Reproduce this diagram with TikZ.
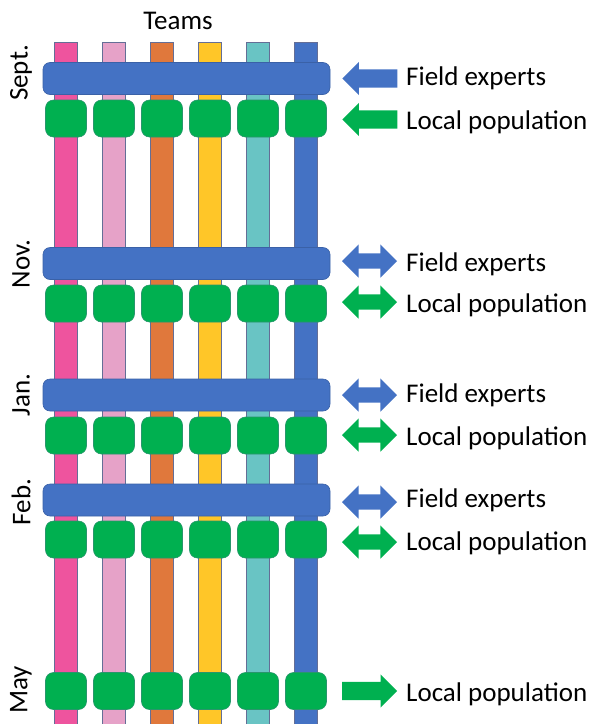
\documentclass[tikz,border=0pt]{standalone}
\usepackage{fontspec}
\setmainfont{Carlito}
\usetikzlibrary{shapes.arrows}

\definecolor{teampink}{RGB}{238,84,158}
\definecolor{teamlightpink}{RGB}{230,162,200}
\definecolor{teamorange}{RGB}{224,120,60}
\definecolor{teamyellow}{RGB}{255,198,40}
\definecolor{teamteal}{RGB}{105,196,196}
\definecolor{teamblue}{RGB}{68,114,196}
\definecolor{popgreen}{RGB}{0,176,80}
\definecolor{edgegrey}{RGB}{100,110,150}

\tikzset{
  teambar/.style={draw=edgegrey, line width=0.8pt},
  expertbar/.style={draw=teamblue!85!black, fill=teamblue, rounded corners=7pt,
    minimum width=287pt, minimum height=32pt, inner sep=0pt, line width=0.6pt},
  popbox/.style={draw=popgreen!60!edgegrey, fill=popgreen, rounded corners=8pt,
    minimum width=41pt, minimum height=37pt, inner sep=0pt, line width=0.6pt},
  leftarrow/.style={single arrow, shape border rotate=180, draw=none,
    minimum height=55pt, inner xsep=0pt, inner ysep=9pt, single arrow head extend=7.5pt},
  rightarrow/.style={single arrow, draw=none,
    minimum height=55pt, inner xsep=0pt, inner ysep=9pt, single arrow head extend=7.5pt},
  twoway/.style={double arrow, draw=none,
    minimum height=55pt, inner xsep=0pt, inner ysep=7.5pt, double arrow head extend=9pt},
  side/.style={font=\fontsize{27}{31}\selectfont, inner sep=0pt, anchor=west},
  month/.style={font=\fontsize{27}{31}\selectfont, inner sep=0pt}
}

\begin{document}
\begin{tikzpicture}[x=1pt, y=-1pt]
\useasboundingbox (0,0) rectangle (589,724);
\clip (0,0) rectangle (589,724);

% Team bars
\foreach \x/\c in {66/teampink,114/teamlightpink,162/teamorange,210/teamyellow,258/teamteal,306/teamblue}
  \draw[teambar, fill=\c] (\x-11.5,42) rectangle (\x+11.5,735);

% Meetings
\foreach \m/\yb/\yg in {sept/78.5/118.5, nov/263.5/303.5, jan/395/435.5, feb/500/539.5} {
  \node[expertbar] (\m-experts) at (186.5,\yb) {};
  \foreach \x [count=\i] in {66,114,162,210,258,306}
    \node[popbox] (\m-pop\i) at (\x,\yg) {};
}
\foreach \x [count=\i] in {66,114,162,210,258,306}
  \node[popbox] (may-pop\i) at (\x,691) {};

% Arrows
\node[leftarrow, fill=teamblue, anchor=tip] (sept-fa) at (342,78.5) {};
\node[leftarrow, fill=popgreen, anchor=tip] (sept-la) at (342,119.5) {};
\node[twoway, fill=teamblue] (nov-fa) at (369.5,261) {};
\node[twoway, fill=popgreen] (nov-la) at (369.5,302) {};
\node[twoway, fill=teamblue] (jan-fa) at (369.5,395) {};
\node[twoway, fill=popgreen] (jan-la) at (369.5,435) {};
\node[twoway, fill=teamblue] (feb-fa) at (369.5,502) {};
\node[twoway, fill=popgreen] (feb-la) at (369.5,542) {};
\node[rightarrow, fill=popgreen, anchor=tail] (may-la) at (342,691) {};

% Labels
\node[side] (sept-ft) at (406,78.5) {Field experts};
\node[side] (sept-lt) at (406,122) {Local population};
\node[side] (nov-ft) at (406,264) {Field experts};
\node[side] (nov-lt) at (406,305) {Local population};
\node[side] (jan-ft) at (406,395) {Field experts};
\node[side] (jan-lt) at (406,438) {Local population};
\node[side] (feb-ft) at (406,500) {Field experts};
\node[side] (feb-lt) at (406,543) {Local population};
\node[side] (may-lt) at (406,694) {Local population};

\node[month] (teams) at (178,21) {Teams};
\node[month, rotate=90] (sept) at (21,73) {Sept.};
\node[month, rotate=90] (nov) at (21,264) {Nov.};
\node[month, rotate=90] (jan) at (21,395) {Jan.};
\node[month, rotate=90] (feb) at (21,502) {Feb.};
\node[month, rotate=90] (may) at (21,690) {May};
\end{tikzpicture}
\end{document}
